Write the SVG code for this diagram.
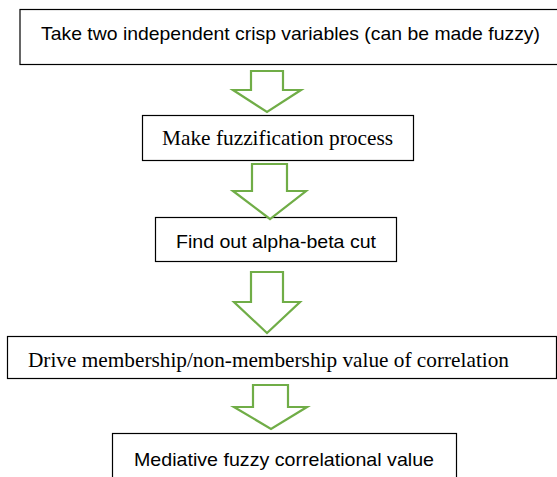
<svg xmlns="http://www.w3.org/2000/svg" width="557" height="477" viewBox="0 0 557 477">
<style>
.box{fill:#fff;stroke:#000;stroke-width:1.2}
.arr{fill:#fff;stroke:#70AD47;stroke-width:2.2;stroke-linejoin:miter}
.sans{font-family:"Liberation Sans","Open Sans",sans-serif;fill:#000}
.serif{font-family:"Liberation Serif","DejaVu Serif",serif;fill:#000}
</style>
<rect width="557" height="477" fill="#fff"/>
<g id="n1">
<rect class="box" x="20" y="9.5" width="560" height="55"/>
<text class="sans" x="41" y="39.5" font-size="19" textLength="499" lengthAdjust="spacingAndGlyphs">Take two independent crisp variables (can be made fuzzy)</text>
</g>
<g id="n2">
<rect class="box" x="142.5" y="115.5" width="271" height="45"/>
<text class="serif" x="162" y="145" font-size="21" textLength="231" lengthAdjust="spacingAndGlyphs">Make fuzzification process</text>
</g>
<g id="n3">
<rect class="box" x="155.5" y="217.5" width="241" height="44"/>
<text class="sans" x="176" y="248" font-size="18.5" textLength="200" lengthAdjust="spacingAndGlyphs">Find out alpha-beta cut</text>
</g>
<g id="n4">
<rect class="box" x="7.5" y="336.5" width="549" height="42"/>
<text class="serif" x="28" y="367" font-size="21" textLength="481" lengthAdjust="spacingAndGlyphs">Drive membership/non-membership value of correlation</text>
</g>
<g id="n5">
<rect class="box" x="112.5" y="433.5" width="344" height="50"/>
<text class="sans" x="134" y="465.5" font-size="18.5" textLength="300" lengthAdjust="spacingAndGlyphs">Mediative fuzzy correlational value</text>
</g>
<g id="connectors">
<polygon class="arr" points="251,71 283,71 283,90 301,90 267,112 233,90 251,90"/>
<polygon class="arr" points="252,164 287,164 287,191 306,191 270,219 233,191 252,191"/>
<polygon class="arr" points="251,272 283,272 283,302 300,302 267,333 234,302 251,302"/>
<polygon class="arr" points="253,385 288,385 288,407 307,407 271,429 234,407 253,407"/>
</g>
</svg>
